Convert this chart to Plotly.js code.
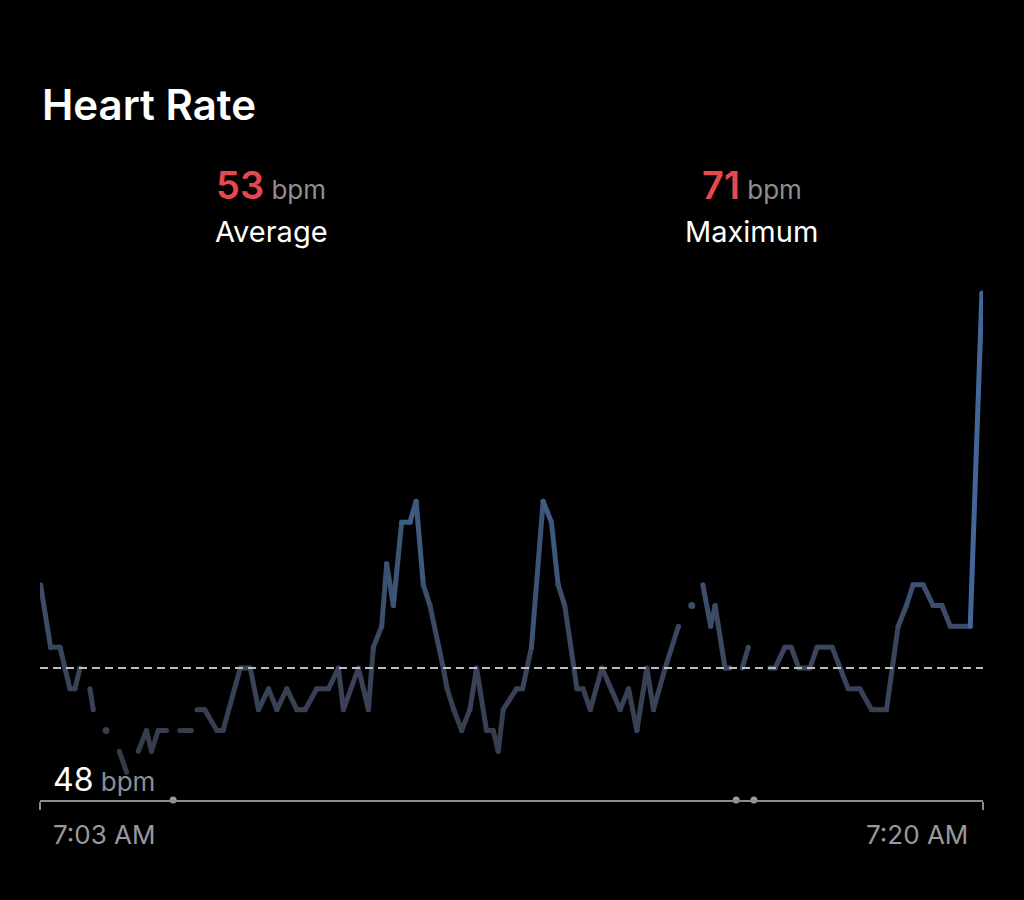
<!DOCTYPE html>
<html>
<head>
<meta charset="utf-8">
<script src="https://cdn.plot.ly/plotly-3.0.1.min.js"></script>
<style>
  html, body { margin:0; padding:0; background:#000; }
  #chart { width:1024px; height:900px; }
</style>
</head>
<body>
<div id="chart"></div>
<script>
// Time in minutes after 7:00 AM; null = gap in the recording
const minutes = [
  3.01,3.19,3.36,3.54,3.63,3.72, null,
  3.90,3.96, null,
  4.19, null,
  4.43,4.56, null,
  4.77,4.92,5.01,5.13,5.28, null,
  5.52,5.73, null,
  5.83,5.97,6.19,6.30,6.61,6.79,6.94,7.12,7.27,7.45,7.63,7.78,7.99,8.20,8.38,8.47,8.74,8.92,9.01,9.16,9.25,9.37,9.52,9.67,9.78,9.91,10.03,10.27,10.34,10.46,10.60,10.75,10.87,11.05,11.17,11.26,11.35,11.59,11.70,11.86,12.07,12.22,12.34,12.46,12.68,12.79,12.92,13.13,13.46,13.61,13.76,13.94,14.06,14.27,14.51, null,
  14.75, null,
  14.95,15.09,15.17,15.35,15.44, null,
  15.66,15.77, null,
  16.16,16.25,16.43,16.54,16.68,16.88,17.01,17.28,17.57,17.78,17.99,18.26,18.47,18.62,18.74,18.92,19.10,19.26,19.41,19.77,19.98
];
const bpm = [
  57,54,54,52,52,53, null,
  52,51, null,
  50, null,
  49,48, null,
  49,50,49,50,50, null,
  50,50, null,
  51,51,50,50,53,53,51,52,51,52,51,51,52,52,53,51,53,51,54,55,58,56,60,60,61,57,56,53,52,51,50,51,53,50,50,49,51,52,52,54,61,60,57,56,52,52,51,53,51,52,50,53,51,53,55, null,
  56, null,
  57,55,56,53,53, null,
  53,54, null,
  53,53,54,54,53,53,54,54,52,52,51,51,55,56,57,57,56,56,55,55,71
];
// Markers sitting on the time axis
const eventMinutes = [5.40, 15.55, 15.87];

const averageBpm = 53;
const maximumBpm = 71;
const minimumBpm = 48;
const statValues = [averageBpm, maximumBpm];
const statLabels = ['Average', 'Maximum'];
const unit = 'bpm';
const timeTicks = [3, 20];
const timeLabels = ['7:03 AM', '7:20 AM'];

const Y_MIN = 46.664, Y_MAX = 71.624;

// colour ramp by heart-rate value
const stops = [[48,[52,58,72]],[53,[58,68,90]],[61,[63,94,138]],[71,[78,132,204]]];
function colorFor(v){
  if (v <= stops[0][0]) return 'rgb('+stops[0][1].join(',')+')';
  for (let k=0;k<stops.length-1;k++){
    const a=stops[k], b=stops[k+1];
    if (v <= b[0]){
      const f=(v-a[0])/(b[0]-a[0]);
      const c=a[1].map((q,j)=>Math.round(q+(b[1][j]-q)*f));
      return 'rgb('+c.join(',')+')';
    }
  }
  return 'rgb('+stops[stops.length-1][1].join(',')+')';
}

const traces = [];
for (let i=0;i<minutes.length-1;i++){
  if (bpm[i]!==null && bpm[i+1]!==null){
    const col = colorFor((bpm[i]+bpm[i+1])/2);
    traces.push({
      type:'scatter', mode:'lines+markers',
      x:[minutes[i],minutes[i+1]], y:[bpm[i],bpm[i+1]],
      line:{color:col, width:5},
      marker:{color:col, size:5},
      hoverinfo:'skip', showlegend:false
    });
  }
}
// isolated single readings
const isoX=[], isoY=[], isoC=[];
for (let i=0;i<minutes.length;i++){
  if (bpm[i]===null) continue;
  const prevNull = i===0 || bpm[i-1]===null;
  const nextNull = i===minutes.length-1 || bpm[i+1]===null;
  if (prevNull && nextNull){ isoX.push(minutes[i]); isoY.push(bpm[i]); isoC.push(colorFor(bpm[i])); }
}
traces.push({
  type:'scatter', mode:'markers', x:isoX, y:isoY,
  marker:{color:isoC, size:7}, hoverinfo:'skip', showlegend:false
});
// event dots on the axis
traces.push({
  type:'scatter', mode:'markers', x:eventMinutes, y:eventMinutes.map(()=>Y_MIN),
  marker:{color:'#9a9a9a', size:7}, cliponaxis:false, hoverinfo:'skip', showlegend:false
});

const statX = [0.245, 0.755];
const annotations = [];
statValues.forEach((v,i)=>{
  annotations.push({
    xref:'paper', yref:'paper', x:statX[i], y:1.183, xanchor:'center', yanchor:'middle',
    showarrow:false,
    text:'<span style="color:#e5484d;font-size:38px;font-weight:600">'+v+'</span><span style="color:#8e8e93;font-size:26px"> '+unit+'</span>'
  });
  annotations.push({
    xref:'paper', yref:'paper', x:statX[i], y:1.093, xanchor:'center', yanchor:'middle',
    showarrow:false, text:statLabels[i], font:{color:'#ffffff', size:29}
  });
});
annotations.push({
  xref:'paper', yref:'paper', x:0.0117, y:0.04, xanchor:'left', yanchor:'middle', showarrow:false,
  text:'<span style="color:#ffffff;font-size:32px">'+minimumBpm+'</span><span style="color:#8e8e93;font-size:26px"> '+unit+'</span>'
});
annotations.push({
  xref:'paper', yref:'paper', x:0.0117, y:-0.066, xanchor:'left', yanchor:'middle', showarrow:false,
  text:timeLabels[0], font:{color:'#98989d', size:26}
});
annotations.push({
  xref:'paper', yref:'paper', x:0.9862, y:-0.066, xanchor:'right', yanchor:'middle', showarrow:false,
  text:timeLabels[1], font:{color:'#98989d', size:26}
});

const layout = {
  width:1024, height:900,
  paper_bgcolor:'#000', plot_bgcolor:'#000',
  font:{family:'Inter, "Noto Sans", sans-serif', color:'#fff'},
  margin:{l:40, r:41, t:280, b:100},
  title:{text:'Heart Rate', x:0.041, xanchor:'left', xref:'container', y:0.8833, yref:'container', yanchor:'middle',
         font:{size:42, color:'#ffffff', weight:600}},
  xaxis:{range:[timeTicks[0], timeTicks[1]], showgrid:false, zeroline:false, showline:true,
         linecolor:'#8c8c8c', linewidth:1.5, ticks:'outside', tickvals:timeTicks, ticklen:8,
         tickcolor:'#8c8c8c', tickwidth:1.5, showticklabels:false, fixedrange:true},
  yaxis:{range:[Y_MIN, Y_MAX], showgrid:false, zeroline:false, showline:false, showticklabels:false, fixedrange:true},
  shapes:[{type:'line', xref:'paper', x0:0, x1:1, yref:'y', y0:averageBpm, y1:averageBpm,
           line:{color:'#bdbdbd', width:2, dash:'8px,5px'}}],
  annotations:annotations,
  showlegend:false
};

Plotly.newPlot('chart', traces, layout, {staticPlot:true, displayModeBar:false});
</script>
</body>
</html>
